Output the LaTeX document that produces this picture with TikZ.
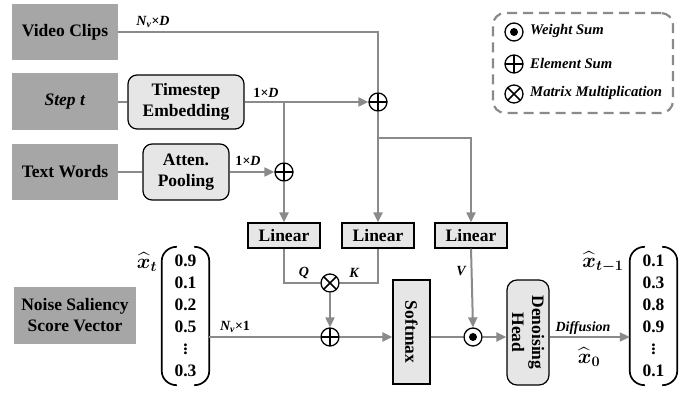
\documentclass[tikz,border=0pt]{standalone}
\usepackage{amsmath}
\usepackage{fontspec}
\setmainfont{Liberation Serif}
\usetikzlibrary{arrows.meta,calc}
\definecolor{lncol}{HTML}{8A8A8A}
\definecolor{boxgray}{HTML}{A6A6A6}
\definecolor{lightfill}{HTML}{E6E6E6}
\newcommand{\xhat}[1]{{\boldmath$\widehat{\boldsymbol{x}}_{\boldsymbol{#1}}$}}
\begin{document}
\begin{tikzpicture}[x=1pt,y=-1pt,
  font=\fontsize{17.5}{21}\selectfont\bfseries,
  graybox/.style={fill=boxgray,minimum width=106,minimum height=56,inner sep=0,align=center},
  lightbox/.style={draw=black,line width=1.2pt,fill=lightfill,inner sep=0,align=center},
  ln/.style={draw=lncol,line width=2pt},
  arr/.style={ln,-{Triangle[length=10pt,width=9pt]}},
  op/.style={circle,draw=black,line width=1.3pt,fill=white,minimum size=18,inner sep=0},
  opplus/.style={op,path picture={\draw[black,line width=1.5pt] (path picture bounding box.north)--(path picture bounding box.south) (path picture bounding box.west)--(path picture bounding box.east);}},
  optimes/.style={op,path picture={\draw[black,line width=1.5pt] ([shift={(45:9pt)}]path picture bounding box.center)--([shift={(225:9pt)}]path picture bounding box.center) ([shift={(135:9pt)}]path picture bounding box.center)--([shift={(315:9pt)}]path picture bounding box.center);}},
  opdot/.style={op,path picture={\fill[black] (path picture bounding box.center) circle (4pt);}},
  small/.style={font=\fontsize{14}{16}\selectfont\bfseries\itshape,inner sep=1},
  legtext/.style={anchor=west,inner sep=1,font=\fontsize{14.7}{16}\selectfont\bfseries\itshape},
  mathlab/.style={font=\fontsize{20.74}{24}\selectfont,inner sep=0},
  vec/.style={align=center,font=\fontsize{17.5}{22}\selectfont\bfseries,inner sep=0},
  paren/.style={draw=black,line width=1.7pt}
]
\useasboundingbox (0,0) rectangle (699,393);

% input boxes
\node[graybox] (vc) at (65,32) {Video Clips};
\node[graybox,minimum height=57] (st) at (65,102) {\textit{Step t}};
\node[graybox] (tw) at (65,172) {Text Words};
\node[graybox,minimum width=122,minimum height=57] (ns) at (75,315.5) {Noise Saliency\\Score Vector};

\node[lightbox,rounded corners=9,minimum width=116,minimum height=54] (te) at (186,102) {Timestep\\Embedding};
\node[lightbox,rounded corners=9,minimum width=86,minimum height=56] (ap) at (186,172) {Atten.\\Pooling};

% operators
\node[opplus] (a1) at (378,102) {};
\node[opplus] (a2) at (284,172) {};
\node[optimes] (mul) at (330,283) {};
\node[opplus] (a3) at (330,337) {};
\node[opdot] (ws) at (473,337) {};

% linear boxes
\node[lightbox,minimum width=72,minimum height=25] (l1) at (284,235.5) {Linear};
\node[lightbox,minimum width=72,minimum height=25] (l2) at (378,235.5) {Linear};
\node[lightbox,minimum width=72,minimum height=25] (l3) at (471,235.5) {Linear};

% softmax and denoising head
\node[lightbox,minimum width=37,minimum height=104] (sm) at (411.5,332) {};
\node[rotate=-90] at (sm.center) {Softmax};
\node[lightbox,rounded corners=10,minimum width=42,minimum height=105] (dh) at (528,332.5) {};
\node[rotate=-90,align=center,font=\fontsize{17.5}{20}\selectfont\bfseries] at (dh.center) {Denoising\\Head};

% vectors
\node[minimum width=47,minimum height=138,inner sep=0] (vin) at (185.5,316) {};
\node[vec] at (vin.center) {0.9\\0.1\\0.2\\0.5\\$\boldsymbol{\vdots}$\\0.3};
\draw[paren] ($(vin.north west)+(15,0)$) arc[start angle=90,end angle=180,x radius=15,y radius=-14] -- ($(vin.south west)+(0,-14)$) arc[start angle=180,end angle=270,x radius=15,y radius=-14];
\draw[paren] ($(vin.north east)+(-15,0)$) arc[start angle=90,end angle=0,x radius=15,y radius=-14] -- ($(vin.south east)+(0,-14)$) arc[start angle=0,end angle=-90,x radius=15,y radius=-14];
\node[minimum width=47,minimum height=138,inner sep=0] (vout) at (653.5,316) {};
\node[vec] at (vout.center) {0.1\\0.3\\0.8\\0.9\\$\boldsymbol{\vdots}$\\0.1};
\draw[paren] ($(vout.north west)+(15,0)$) arc[start angle=90,end angle=180,x radius=15,y radius=-14] -- ($(vout.south west)+(0,-14)$) arc[start angle=180,end angle=270,x radius=15,y radius=-14];
\draw[paren] ($(vout.north east)+(-15,0)$) arc[start angle=90,end angle=0,x radius=15,y radius=-14] -- ($(vout.south east)+(0,-14)$) arc[start angle=0,end angle=-90,x radius=15,y radius=-14];
\node[mathlab] (lxt) at (147,262) {\xhat{t}};
\node[mathlab] (lxt1) at (603,262) {\xhat{t-1}};

% connectors
\draw[ln] (vc.east) -| (a1.north);
\draw[ln] (st.east) -- (te.west);
\draw[arr] (te.east) -- (a1.west);
\coordinate (br1) at (te.east -| a2);
\draw[ln] (br1) -- (a2.north);
\draw[ln] (tw.east) -- (ap.west);
\draw[arr] (ap.east) -- (a2.west);
\draw[arr] (a2.south) -- (l1.north);
\draw[arr] (a1.south) -- (l2.north);
\coordinate (br2) at (378,138);
\draw[arr] (br2) -| (l3.north);
\draw[ln] (l1.south) |- (mul.west);
\draw[ln] (l2.south) |- (mul.east);
\draw[arr] (mul.south) -- (a3.north);
\draw[ln] (vin.east |- a3) -- (a3.west);
\draw[arr] (a3.east) -- (a3.east -| sm.west);
\draw[ln] (sm.east |- ws) -- (ws.west);
\draw[arr] (l3.south) -- (ws.north);
\draw[arr] (ws.east) -- (ws.east -| dh.west);
\draw[arr] (dh.east |- ws) -- (vout.west |- ws);

% labels
\node[small] at (153,22) {N\textsubscript{v}×D};
\node[small] at (266,93) {\upshape 1\itshape ×D};
\node[small] at (248,161) {\upshape 1\itshape ×D};
\node[small] at (304,273) {Q};
\node[small] at (354,273) {K};
\node[small] at (461,271) {V};
\node[small] at (235,327) {N\textsubscript{v}×\upshape 1};
\node[small] at (583,328) {Diffusion};
\node[mathlab] at (589,357) {\xhat{0}};

% legend
\node[draw=lncol,line width=2.2pt,dash pattern=on 10pt off 6pt,rounded corners=12,minimum width=180,minimum height=100,inner sep=0] (leg) at (583,63) {};
\node[opdot] (lg1) at (514,32) {};
\node[opplus] (lg2) at (514,64) {};
\node[optimes] (lg3) at (514,94) {};
\node[legtext] at (529,31) {Weight Sum};
\node[legtext] at (529,63) {Element Sum};
\node[legtext] at (529,93) {Matrix Multiplication};
\end{tikzpicture}
\end{document}
